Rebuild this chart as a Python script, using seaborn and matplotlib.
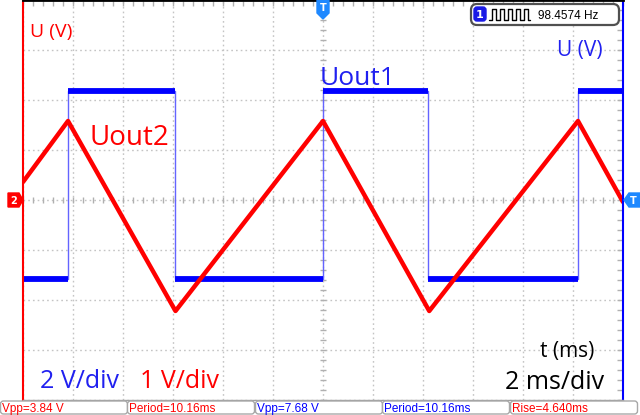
import numpy as np
import pandas as pd
import matplotlib
matplotlib.use('Agg')
import matplotlib.pyplot as plt
from matplotlib.patches import Polygon, FancyBboxPatch
import seaborn as sns

# scope settings: 2 ms/div, 12 divisions across, 8 down
T_MAX = 24.0
CH1_VDIV = 2.0
CH2_VDIV = 1.0

# channel 1 (blue) square wave: alternating rise/fall times in ms, levels in V
ch1_edges = [1.8, 6.08, 12.0, 16.2, 22.2]
ch1_low = -3.16
ch1_high = 4.36

# channel 2 (red) triangle wave: vertices (ms, V)
ch2_t = [0.0, 1.8, 6.1, 12.0, 16.25, 22.2, 24.0]
ch2_v = [0.36, 1.58, -2.22, 1.58, -2.22, 1.58, -0.04]

meas_text = ["Vpp=3.84 V", "Period=10.16ms", "Vpp=7.68 V", "Period=10.16ms", "Rise=4.640ms"]
meas_color = ["#ff0000", "#ff0000", "#0000ff", "#0000ff", "#ff0000"]
freq_text = "98.4574 Hz"

RED = "#ff0000"
BLUE = "#0000ff"
TXT_BLUE = "#2020f0"
MARK_BLUE = "#1e88ff"
GRID = "#c4c4c4"

sns.set_style("white")
plt.rcParams['font.family'] = ['Open Sans', 'DejaVu Sans']

# build the square wave trace
t1 = [0.0]
v1 = [ch1_low]
level = ch1_low
for e in ch1_edges:
    nxt = ch1_high if level == ch1_low else ch1_low
    t1 += [e, e]
    v1 += [level, nxt]
    level = nxt
t1.append(T_MAX)
v1.append(level)
ch1 = pd.DataFrame({"t": t1, "div": np.array(v1) / CH1_VDIV})
ch2 = pd.DataFrame({"t": ch2_t, "div": np.array(ch2_v) / CH2_VDIV})

fig = plt.figure(figsize=(6.4, 4.15), dpi=100)
ax = fig.add_axes([23 / 640, 15 / 415, 600 / 640, 400 / 415])
ax.set_xlim(0, T_MAX)
ax.set_ylim(-4, 4)

ax.set_xticks(np.arange(0, T_MAX + 0.01, 2))
ax.set_yticks(np.arange(-4, 4.01, 1))
ax.set_xticks(np.arange(0, T_MAX + 0.01, 0.4), minor=True)
ax.set_yticks(np.arange(-4, 4.01, 0.2), minor=True)
ax.tick_params(which='both', direction='in', top=True, right=True, length=4,
               width=1, color='#b0b0b0', labelbottom=False, labelleft=False)
ax.grid(which='major', color=GRID, ls=(0, (1.2, 2.2)), lw=1)

# centre cross ticks
cx = np.arange(0, T_MAX + 0.01, 0.4)
cy = np.arange(-4, 4.01, 0.2)
ax.plot(cx, np.zeros_like(cx), ls='none', marker='|', ms=5, mew=1, color='#b0b0b0')
ax.plot(np.full_like(cy, 12.0), cy, ls='none', marker='_', ms=5, mew=1, color='#b0b0b0')

for side, col, lw in [('top', 'black', 2), ('bottom', '#a0a0a0', 1),
                      ('left', RED, 1.5), ('right', BLUE, 1.5)]:
    ax.spines[side].set_color(col)
    ax.spines[side].set_linewidth(lw)

# ch1: thin edges, thick levels
sns.lineplot(data=ch1, x="t", y="div", sort=False, estimator=None,
             color="#6464ff", lw=1, ax=ax)
bounds = [0.0] + ch1_edges + [T_MAX]
lev = ch1_low
for a, b in zip(bounds[:-1], bounds[1:]):
    ax.hlines(lev / CH1_VDIV, a, b, color=BLUE, lw=4.2)
    lev = ch1_high if lev == ch1_low else ch1_low

sns.lineplot(data=ch2, x="t", y="div", sort=False, estimator=None,
             color=RED, lw=3.2, ax=ax)
ax.set_xlabel("")
ax.set_ylabel("")

# overlay in pixel coordinates for labels and scope decorations
ov = fig.add_axes([0, 0, 1, 1])
ov.set_xlim(0, 640)
ov.set_ylim(415, 0)
ov.axis('off')

ov.text(30, 37, "U (V)", color=RED, fontsize=14)
ov.text(90, 145, "Uout2", color=RED, fontsize=20)
ov.text(320, 85, "Uout1", color=TXT_BLUE, fontsize=19)
ov.text(557, 56, "U (V)", color=TXT_BLUE, fontsize=15)
ov.text(540, 357, "t (ms)", color="black", fontsize=15)
ov.text(505, 389, "2 ms/div", color="black", fontsize=18)
ov.text(40, 388, "2 V/div", color=TXT_BLUE, fontsize=18)
ov.text(140, 388, "1 V/div", color=RED, fontsize=18)

# channel / trigger markers
ov.add_patch(Polygon([(8, 193), (19, 193), (23, 200), (19, 207), (8, 207)],
                     closed=True, color=RED))
ov.text(13.5, 200.5, "2", color="white", fontsize=7, fontweight='bold',
        ha='center', va='center', family='DejaVu Sans')
ov.add_patch(Polygon([(640, 193), (629, 193), (624, 200), (629, 207), (640, 207)],
                     closed=True, color=MARK_BLUE))
ov.text(633, 200.5, "T", color="white", fontsize=7, fontweight='bold',
        ha='center', va='center', family='DejaVu Sans')
ov.add_patch(Polygon([(317, 0), (329, 0), (329, 13), (323, 19), (317, 13)],
                     closed=True, color=MARK_BLUE))
ov.text(323, 8, "T", color="white", fontsize=7, fontweight='bold',
        ha='center', va='center', family='DejaVu Sans')

# frequency box
ov.add_patch(FancyBboxPatch((471, 4), 148, 21, boxstyle="round,pad=0,rounding_size=6",
                            fc="white", ec="#505050", lw=1.6))
ov.add_patch(FancyBboxPatch((474, 7), 12, 14, boxstyle="round,pad=0,rounding_size=3",
                            fc="#1a1ae6", ec="#1a1ae6", lw=1))
ov.text(480, 14.5, "1", color="white", fontsize=8, fontweight='bold',
        ha='center', va='center', family='DejaVu Sans')
sq_x = [489, 492]
sq_y = [20, 20]
for k in range(5):
    x0 = 492 + 8 * k
    sq_x += [x0, x0 + 4, x0 + 4, x0 + 8 if k < 4 else 530]
    sq_y += [9, 9, 20, 20]
ov.plot(sq_x, sq_y, color="black", lw=1)
ov.text(538, 19, freq_text, color="black", fontsize=8.5, family='Liberation Sans')

# measurement bar
box_x = [0, 127, 255, 382, 510]
for x0, txt, col in zip(box_x, meas_text, meas_color):
    ov.add_patch(FancyBboxPatch((x0 + 0.5, 401), 127, 13,
                                boxstyle="round,pad=0,rounding_size=3",
                                fc="white", ec="#a8a8a8", lw=1))
    ov.text(x0 + 2, 412, txt, color=col, fontsize=8.5, family='Liberation Sans')

fig.savefig("out.png", dpi=100)
